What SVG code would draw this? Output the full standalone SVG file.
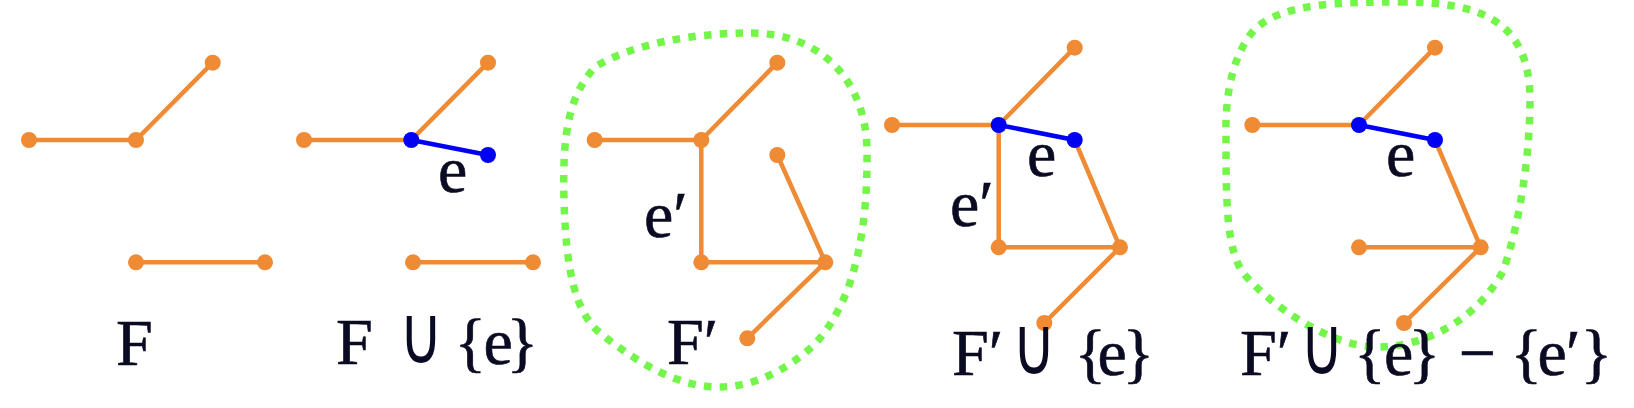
<svg xmlns="http://www.w3.org/2000/svg" width="1634" height="408" viewBox="0 0 1634 408">
<style>
.o{stroke:#EF8A35;stroke-width:4.5;fill:none;stroke-linecap:round}
.b{stroke:#0000F2;stroke-width:4.5;fill:none;stroke-linecap:round}
.on{fill:#EF8A35}
.bn{fill:#0000F2}
.loop{fill:none;stroke:#74F54A;stroke-width:7.5;stroke-dasharray:7.5 8.3;stroke-linecap:butt}
.t{font-family:"Liberation Serif","Times New Roman",serif;font-size:66px;fill:#0A0A22;stroke:#0A0A22;stroke-width:0.6}
.cup{font-family:"DejaVu Sans",sans-serif;font-weight:200;font-size:60px;fill:#0A0A22;text-anchor:middle}
</style>
<rect width="1634" height="408" fill="#fff"/>
<g id="loops">
<path class="loop" d="M751,33 C820,33 866,80 867,150 C868,230 855,300 815,344 C785,372 752,387 718,387 C680,387 640,365 600,333 C575,312 566,270 564,200 C562,130 570,95 595,67 C630,45 690,33 751,33 Z"/>
<path class="loop" d="M1400,2 C1480,2 1530,20 1530,100 C1530,160 1518,230 1503,271 C1480,315 1430,347 1377,347 C1330,347 1270,305 1244,274 C1226,250 1226,200 1226,133 C1225,90 1235,50 1256,28 C1285,3 1340,2 1400,2 Z"/>
</g>
<g id="connectors">
<line class="o" x1="29" y1="140" x2="136" y2="140"/>
<line class="o" x1="136" y1="140" x2="212.7" y2="62.7"/>
<line class="o" x1="136" y1="262.3" x2="265" y2="262.3"/>
<line class="o" x1="304" y1="140" x2="411.3" y2="140"/>
<line class="o" x1="411.3" y1="140" x2="488" y2="62.7"/>
<line class="b" x1="411.3" y1="140" x2="488" y2="155"/>
<line class="o" x1="413" y1="262.3" x2="533" y2="262.3"/>
<line class="o" x1="594.7" y1="140" x2="701.3" y2="140"/>
<line class="o" x1="701.3" y1="140" x2="777.3" y2="62.7"/>
<line class="o" x1="701.3" y1="140" x2="701.3" y2="262.3"/>
<line class="o" x1="701.3" y1="262.3" x2="825.3" y2="262.3"/>
<line class="o" x1="777.3" y1="155" x2="825.3" y2="262.3"/>
<line class="o" x1="825.3" y1="262.3" x2="747.3" y2="338.3"/>
<line class="o" x1="892" y1="125" x2="998.7" y2="125"/>
<line class="o" x1="998.7" y1="125" x2="1074.7" y2="47.7"/>
<line class="o" x1="998.7" y1="125" x2="998.7" y2="247.3"/>
<line class="o" x1="998.7" y1="247.3" x2="1120" y2="247.3"/>
<line class="o" x1="1074.7" y1="140" x2="1120" y2="247.3"/>
<line class="o" x1="1120" y1="247.3" x2="1044.3" y2="323"/>
<line class="b" x1="998.7" y1="125" x2="1074.7" y2="140"/>
<line class="o" x1="1252.3" y1="125" x2="1359" y2="125"/>
<line class="o" x1="1359" y1="125" x2="1435" y2="47.7"/>
<line class="b" x1="1359" y1="125" x2="1435" y2="140"/>
<line class="o" x1="1435" y1="140" x2="1480.7" y2="247.3"/>
<line class="o" x1="1359" y1="247.3" x2="1480.7" y2="247.3"/>
<line class="o" x1="1480.7" y1="247.3" x2="1404" y2="323"/>
</g>
<g id="graph-F">
<g id="F-n1"><circle class="on" cx="29" cy="140" r="8"/></g>
<g id="F-n2"><circle class="on" cx="136" cy="140" r="8"/></g>
<g id="F-n3"><circle class="on" cx="212.7" cy="62.7" r="8"/></g>
<g id="F-n4"><circle class="on" cx="136" cy="262.3" r="8"/></g>
<g id="F-n5"><circle class="on" cx="265" cy="262.3" r="8"/></g>
</g>
<g id="graph-Fe">
<g id="Fe-n1"><circle class="on" cx="304" cy="140" r="8"/></g>
<g id="Fe-n2"><circle class="bn" cx="411.3" cy="140" r="8"/></g>
<g id="Fe-n3"><circle class="on" cx="488" cy="62.7" r="8"/></g>
<g id="Fe-n4"><circle class="bn" cx="488" cy="155" r="8"/></g>
<g id="Fe-n5"><circle class="on" cx="413" cy="262.3" r="8"/></g>
<g id="Fe-n6"><circle class="on" cx="533" cy="262.3" r="8"/></g>
</g>
<g id="graph-Fp">
<g id="Fp-n1"><circle class="on" cx="594.7" cy="140" r="8"/></g>
<g id="Fp-n2"><circle class="on" cx="701.3" cy="140" r="8"/></g>
<g id="Fp-n3"><circle class="on" cx="777.3" cy="62.7" r="8"/></g>
<g id="Fp-n4"><circle class="on" cx="777.3" cy="155" r="8"/></g>
<g id="Fp-n5"><circle class="on" cx="701.3" cy="262.3" r="8"/></g>
<g id="Fp-n6"><circle class="on" cx="825.3" cy="262.3" r="8"/></g>
<g id="Fp-n7"><circle class="on" cx="747.3" cy="338.3" r="8"/></g>
</g>
<g id="graph-Fpe">
<g id="Fpe-n1"><circle class="on" cx="892" cy="125" r="8"/></g>
<g id="Fpe-n2"><circle class="bn" cx="998.7" cy="125" r="8"/></g>
<g id="Fpe-n3"><circle class="on" cx="1074.7" cy="47.7" r="8"/></g>
<g id="Fpe-n4"><circle class="bn" cx="1074.7" cy="140" r="8"/></g>
<g id="Fpe-n5"><circle class="on" cx="998.7" cy="247.3" r="8"/></g>
<g id="Fpe-n6"><circle class="on" cx="1120" cy="247.3" r="8"/></g>
<g id="Fpe-n7"><circle class="on" cx="1044.3" cy="323" r="8"/></g>
</g>
<g id="graph-Fpee">
<g id="Fpee-n1"><circle class="on" cx="1252.3" cy="125" r="8"/></g>
<g id="Fpee-n2"><circle class="bn" cx="1359" cy="125" r="8"/></g>
<g id="Fpee-n3"><circle class="on" cx="1435" cy="47.7" r="8"/></g>
<g id="Fpee-n4"><circle class="bn" cx="1435" cy="140" r="8"/></g>
<g id="Fpee-n5"><circle class="on" cx="1359" cy="247.3" r="8"/></g>
<g id="Fpee-n6"><circle class="on" cx="1480.7" cy="247.3" r="8"/></g>
<g id="Fpee-n7"><circle class="on" cx="1404" cy="323" r="8"/></g>
</g>
<g id="labels">
<text class="t" x="116" y="365">F</text>
<text class="t" x="438" y="192">e</text>
<text class="t" x="336" y="364">F</text>
<text class="cup" transform="translate(421,363) scale(1,1.35)">∪</text>
<text class="t" x="454.4 483.4 506.4" y="364">{e}</text>
<text class="t" x="644" y="237">e′</text>
<text class="t" x="667" y="364">F′</text>
<text class="t" x="1027" y="176">e</text>
<text class="t" x="950" y="226">e′</text>
<text class="t" x="952" y="375">F′</text>
<text class="cup" transform="translate(1034,374) scale(1,1.35)">∪</text>
<text class="t" x="1074.4 1097.6 1122.4" y="375">{e}</text>
<text class="t" x="1386" y="176">e</text>
<text class="t" x="1240" y="375">F′</text>
<text class="cup" transform="translate(1322,374) scale(1,1.35)">∪</text>
<text class="t" x="1354 1384 1408.4 1458.7 1510.4 1537.4 1566 1580.4" y="375">{e}−{e′}</text>
</g>
</svg>
